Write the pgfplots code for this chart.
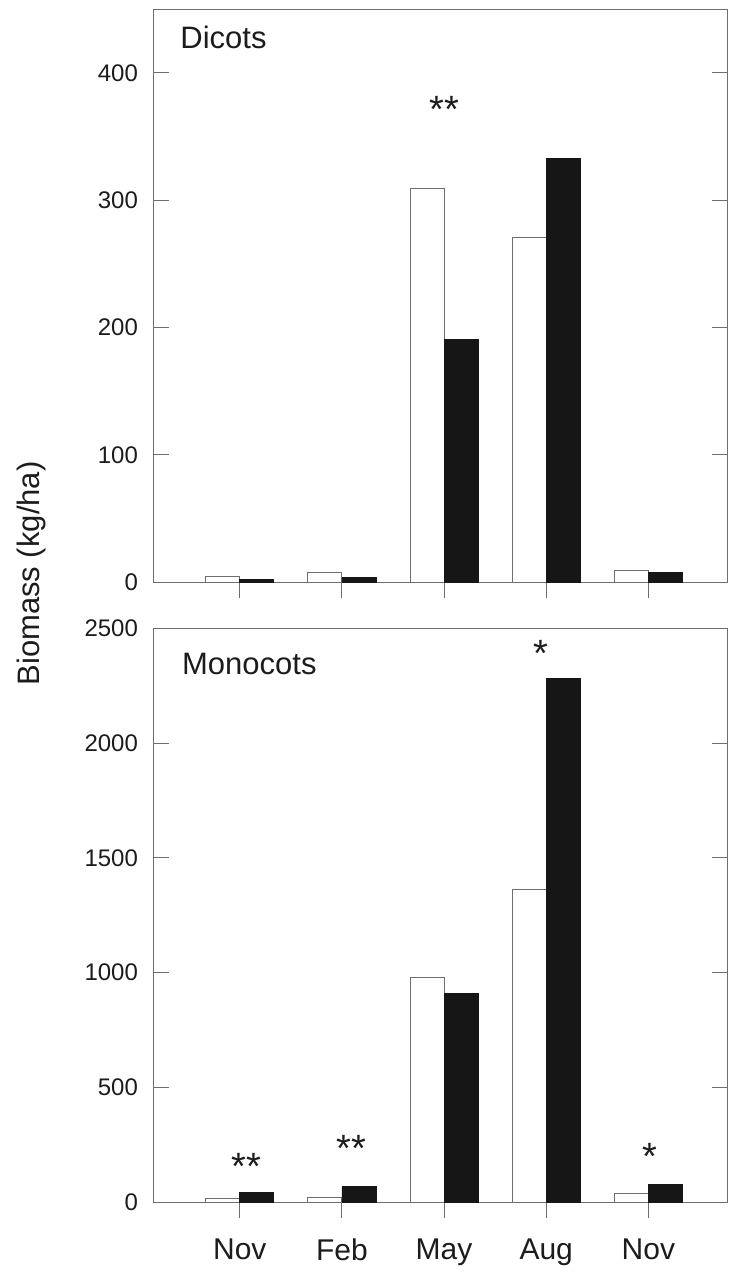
\documentclass[border=0pt]{standalone}
\usepackage{fontspec}
\setmainfont{Liberation Sans}
\usepackage{pgfplots}
\usepackage{pgfplotstable}
\pgfplotsset{compat=1.18}

\definecolor{axisgray}{RGB}{110,110,110}
\definecolor{barblack}{RGB}{22,22,22}
\definecolor{inkgray}{RGB}{28,28,28}

% biomass per sampling date: open bars = first treatment, filled bars = second
\pgfplotstableread{
x open filled
1 4.4   2.5
2 7.7   3.6
3 309.3 190.4
4 270.8 332.9
5 9.5   7.6
}\dicots
\pgfplotstableread{
x open filled
1 14   40
2 22   67
3 979  910
4 1363 2283
5 38   77
}\monocots
% significance marks (baseline position)
\pgfplotstableread{
x y s
3 361 **
}\dicotsig
\pgfplotstableread{
x y s
1.065 97 **
2.09 178 **
3.95 2336 *
5.02 141 *
}\monocotsig

\pgfplotsset{
  panel/.style={
    scale only axis,
    width=287.5pt,
    xmin=0.15, xmax=5.78,
    ymin=0,
    axis line style={axisgray, line width=0.5pt},
    xtick={1,2,3,4,5},
    xtick pos=bottom,
    ytick pos=both,
    tick align=inside,
    major tick length=8pt,
    tick style={axisgray, line width=0.5pt},
    xtick style={yshift=-8pt},
    yticklabel style={font=\fontsize{12}{14}\selectfont, text=inkgray, xshift=-4pt,
      /pgf/number format/1000 sep={}},
    /pgf/number format/assume math mode=true,
  },
  openbar/.style={ybar, bar width=0.333, bar shift=-0.1667, fill=white, draw=axisgray, line width=0.45pt},
  fillbar/.style={ybar, bar width=0.333, bar shift=0.1667, fill=barblack, draw=barblack, line width=0.45pt},
  sigmarks/.style={draw=none, mark=none, nodes near coords, point meta=explicit symbolic,
    nodes near coords style={anchor=base, inner sep=0pt, font=\fontsize{19}{22}\selectfont, text=inkgray}},
}

\begin{document}
\begin{tikzpicture}
\useasboundingbox (0,0) rectangle (364.5pt,637.5pt);

\begin{axis}[panel,
  at={(76.5pt,346.35pt)}, anchor=south west,
  height=286.5pt,
  ymax=450, ytick={0,100,...,400},
  xticklabels={},
]
\addplot[openbar] table[x=x, y=open] {\dicots};
\addplot[fillbar] table[x=x, y=filled] {\dicots};
\addplot[sigmarks] table[x=x, y=y, meta=s] {\dicotsig};
\node[anchor=base west, inner sep=0pt, font=\fontsize{15.5}{18}\selectfont, text=inkgray]
  at (rel axis cs:0.047,0.932) {Dicots};
\end{axis}

\begin{axis}[panel,
  at={(76.5pt,36.5pt)}, anchor=south west,
  height=286.75pt,
  ymax=2500, ytick={0,500,...,2500},
  xticklabels={Nov,Feb,May,Aug,Nov},
  xticklabel style={font=\fontsize{15}{18}\selectfont, text=inkgray, anchor=north, inner sep=0pt, yshift=-18pt},
]
\addplot[openbar] table[x=x, y=open] {\monocots};
\addplot[fillbar] table[x=x, y=filled] {\monocots};
\addplot[sigmarks] table[x=x, y=y, meta=s] {\monocotsig};
\node[anchor=base west, inner sep=0pt, font=\fontsize{15.5}{18}\selectfont, text=inkgray]
  at (rel axis cs:0.05,0.919) {Monocots};
\end{axis}

\node[rotate=90, anchor=base, inner sep=0pt, font=\fontsize{15.5}{18}\selectfont, text=inkgray]
  at (20pt,350.75pt) {Biomass (kg/ha)};
\end{tikzpicture}
\end{document}
